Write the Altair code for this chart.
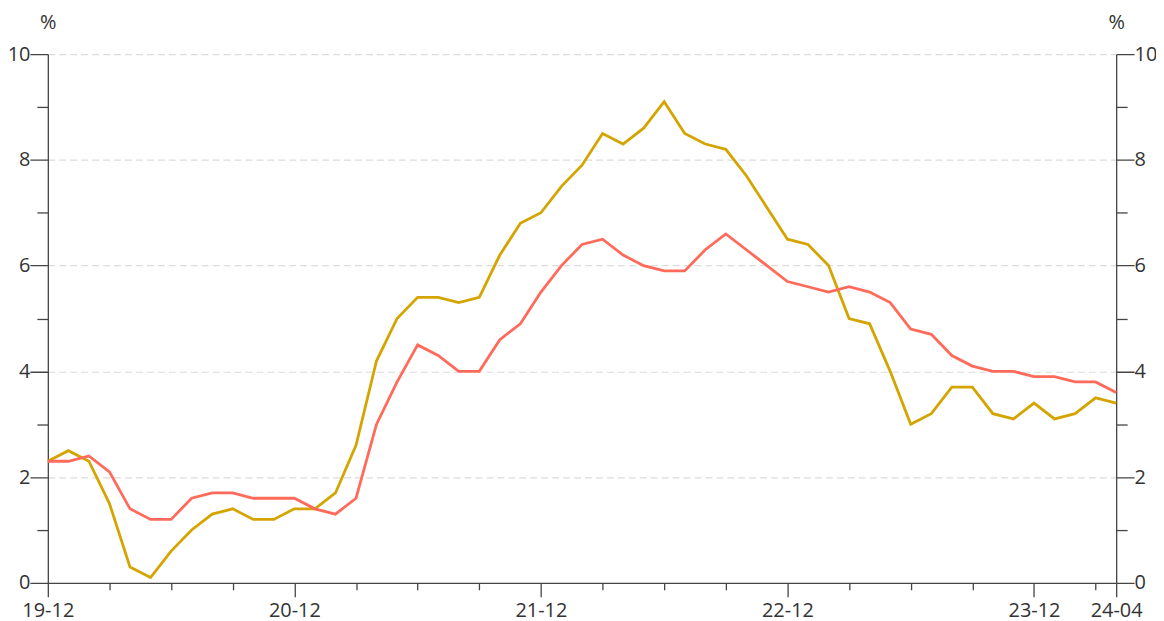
import altair as alt
import pandas as pd

# Month labels (yy-mm), Dec 2019 .. Apr 2024
months = [
    "19-12",
    "20-01", "20-02", "20-03", "20-04", "20-05", "20-06", "20-07", "20-08", "20-09", "20-10", "20-11", "20-12",
    "21-01", "21-02", "21-03", "21-04", "21-05", "21-06", "21-07", "21-08", "21-09", "21-10", "21-11", "21-12",
    "22-01", "22-02", "22-03", "22-04", "22-05", "22-06", "22-07", "22-08", "22-09", "22-10", "22-11", "22-12",
    "23-01", "23-02", "23-03", "23-04", "23-05", "23-06", "23-07", "23-08", "23-09", "23-10", "23-11", "23-12",
    "24-01", "24-02", "24-03", "24-04",
]

gold_values = [
    2.3, 2.5, 2.3, 1.5, 0.3, 0.1, 0.6, 1.0, 1.3, 1.4, 1.2, 1.2, 1.4,
    1.4, 1.7, 2.6, 4.2, 5.0, 5.4, 5.4, 5.3, 5.4, 6.2, 6.8, 7.0,
    7.5, 7.9, 8.5, 8.3, 8.6, 9.1, 8.5, 8.3, 8.2, 7.7, 7.1, 6.5,
    6.4, 6.0, 5.0, 4.9, 4.0, 3.0, 3.2, 3.7, 3.7, 3.2, 3.1, 3.4,
    3.1, 3.2, 3.5, 3.4,
]

red_values = [
    2.3, 2.3, 2.4, 2.1, 1.4, 1.2, 1.2, 1.6, 1.7, 1.7, 1.6, 1.6, 1.6,
    1.4, 1.3, 1.6, 3.0, 3.8, 4.5, 4.3, 4.0, 4.0, 4.6, 4.9, 5.5,
    6.0, 6.4, 6.5, 6.2, 6.0, 5.9, 5.9, 6.3, 6.6, 6.3, 6.0, 5.7,
    5.6, 5.5, 5.6, 5.5, 5.3, 4.8, 4.7, 4.3, 4.1, 4.0, 4.0, 3.9,
    3.9, 3.8, 3.8, 3.6,
]

series_names = ["gold", "red"]
series_colors = ["#D4A500", "#FF6A5A"]

# axis ticks: every 3 months plus the last month; labels only on Decembers + last
tick_months = months[::3] + [months[-1]]
label_months = [m for m in months if m.endswith("-12")] + [months[-1]]
y_ticks = list(range(0, 11))

rows = []
for name, vals in zip(series_names, [gold_values, red_values]):
    for m, v in zip(months, vals):
        rows.append({"month": m, "series": name, "value": v})
df = pd.DataFrame(rows)

FONT = "Open Sans"
FS = 20
label_list = "[" + ",".join("'%s'" % m for m in label_months) + "]"
is_label = "indexof(%s, datum.value) >= 0" % label_list

x_enc = alt.X(
    "month:O",
    sort=months,
    scale=alt.Scale(type="point", padding=0),
    axis=alt.Axis(
        values=tick_months,
        labelExpr="%s ? datum.value : ''" % is_label,
        labelAngle=0,
        title=None,
        grid=False,
        domainColor="#444444",
        domainWidth=1.3,
        tickColor="#444444",
        tickWidth=1.3,
        tickSize=14,
        tickDash={"condition": {"test": "!(%s)" % is_label, "value": [7, 40]}, "value": [1, 0]},
        labelPadding=4,
        labelFont=FONT,
        labelFontSize=FS,
        labelColor="#333333",
        labelBaseline="top",
        labelOverlap=False,
    ),
)

def y_axis(orient):
    return alt.Axis(
        orient=orient,
        values=y_ticks,
        labelExpr="datum.value % 2 == 0 ? datum.label : ''",
        title="%",
        titleAngle=0,
        titleX=0,
        titleY=-26,
        titleAlign="center",
        titleBaseline="alphabetic",
        titleFont=FONT,
        titleFontSize=FS,
        titleFontWeight="normal",
        titleColor="#333333",
        grid=(orient == "left"),
        gridColor={"condition": {"test": "datum.value % 2 == 1 || datum.value == 0", "value": "transparent"}, "value": "#dcdcdc"},
        gridDash=[7, 4],
        gridWidth=1.2,
        domainColor="#444444",
        domainWidth=1.3,
        tickColor="#444444",
        tickWidth=1.3,
        tickSize=18,
        tickDash={"condition": {"test": "datum.value % 2 == 1", "value": [11, 40]}, "value": [1, 0]},
        labelPadding=0,
        labelFont=FONT,
        labelFontSize=FS,
        labelColor="#333333",
        labelOverlap=False,
    )

color_enc = alt.Color(
    "series:N",
    scale=alt.Scale(domain=series_names, range=series_colors),
    legend=None,
)

y_scale = alt.Scale(domain=[0, 10], nice=False, zero=True)

left = alt.Chart(df).mark_line(strokeWidth=2.8).encode(
    x=x_enc,
    y=alt.Y("value:Q", scale=y_scale, axis=y_axis("left")),
    color=color_enc,
    order=alt.Order("series:N"),
)

right = alt.Chart(df).mark_line(strokeWidth=2.8, opacity=0).encode(
    x=x_enc,
    y=alt.Y("value:Q", scale=y_scale, axis=y_axis("right")),
    color=color_enc,
)

chart = (
    alt.layer(left, right)
    .resolve_axis(y="independent")
    .properties(
        width=1073,
        height=531,
        padding={"left": 40, "top": 45, "right": 40, "bottom": 40},
        autosize=alt.AutoSizeParams(type="none"),
    )
    .configure_view(stroke=None)
)

chart.save("out.html", embed_options={"renderer": "svg", "actions": False})
